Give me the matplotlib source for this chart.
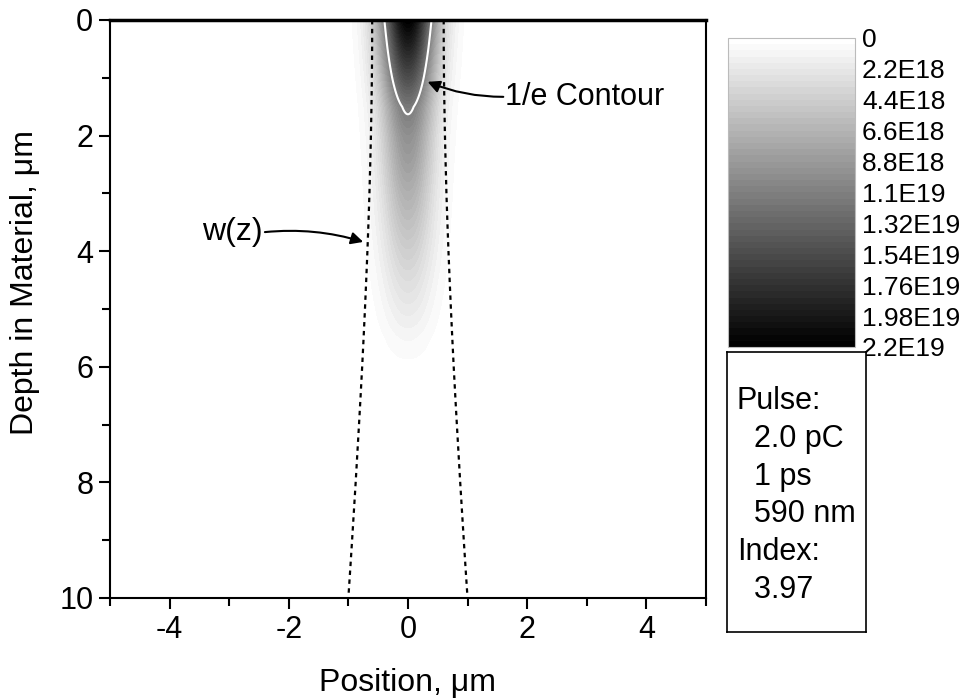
import matplotlib.pyplot as plt
import numpy as np
from matplotlib.colors import ListedColormap, BoundaryNorm
from matplotlib.ticker import MultipleLocator

plt.rcParams['font.family'] = ['Liberation Sans', 'DejaVu Sans']
plt.rcParams['axes.unicode_minus'] = False

# depth below the surface (um)
depth = [0.0, 0.5, 1.0, 1.5, 2.0, 2.5, 3.0, 3.5, 4.0, 4.5, 5.0,
         5.5, 6.0, 6.5, 7.0, 7.5, 8.0, 8.5, 9.0, 9.5, 10.0]
# beam radius w(z) (um)
beam_w = [0.600, 0.601, 0.605, 0.612, 0.621, 0.633, 0.646, 0.662, 0.680, 0.700, 0.721,
          0.744, 0.768, 0.794, 0.821, 0.849, 0.877, 0.907, 0.937, 0.968, 1.000]
# on-axis carrier density (cm^-3), read from the grey shades
n_axis = [2.20e19, 1.87e19, 1.52e19, 1.15e19, 9.6e18, 8.3e18, 6.9e18, 5.6e18,
          4.3e18, 3.1e18, 2.0e18, 9.5e17, 2.5e17, 8e16, 3e16, 1e16,
          5e15, 2e15, 1e15, 5e14, 2e14]
# lateral 1/e half-width of the carrier plume (um)
plume_w = [0.475, 0.47, 0.465, 0.46, 0.455, 0.45, 0.45, 0.45, 0.45, 0.445, 0.44,
           0.435, 0.43, 0.42, 0.41, 0.40, 0.40, 0.40, 0.40, 0.40, 0.40]
contour_level = 1.1e19

cbar_values = [0, 2.2e18, 4.4e18, 6.6e18, 8.8e18, 1.1e19, 1.32e19, 1.54e19, 1.76e19, 1.98e19, 2.2e19]
cbar_labels = ['0', '2.2E18', '4.4E18', '6.6E18', '8.8E18', '1.1E19',
               '1.32E19', '1.54E19', '1.76E19', '1.98E19', '2.2E19']
box_lines = ['Pulse:', '  2.0 pC', '  1 ps', '  590 nm', 'Index:', '  3.97']

n_peak = 2.2e19
n_levels = 50

x = np.linspace(-5, 5, 1001)
X, Z = np.meshgrid(x, np.array(depth))
A = np.array(plume_w)[:, None]
N = np.array(n_axis)[:, None] * np.exp(-(X / A) ** 2)

fig = plt.figure(figsize=(9.62, 6.98), dpi=100)
ax = fig.add_axes([0.1143, 0.1433, 0.6195, 0.8281])

levels = np.linspace(0, n_peak, n_levels + 1)
cmap = ListedColormap([str(g) for g in np.linspace(1, 0, n_levels)])
norm = BoundaryNorm(levels, n_levels)
cf = ax.contourf(X, Z, N, levels=levels, cmap=cmap, norm=norm)

ax.contour(X, Z, N, levels=[contour_level], colors='white', linewidths=1.5)

ax.plot(-np.array(beam_w), depth, color='black', lw=1.6, ls=(0, (2, 2)))
ax.plot(np.array(beam_w), depth, color='black', lw=1.6, ls=(0, (2, 2)))

arrow = dict(arrowstyle='-|>', color='black', lw=1.5, shrinkA=0, shrinkB=0,
             mutation_scale=18, connectionstyle='arc3,rad=-0.1')
ax.text(1.63, 1.33, '1/e Contour', fontsize=22, va='center', ha='left')
ax.annotate('', xy=(0.33, 1.07), xytext=(1.6, 1.33), arrowprops=arrow)
ax.text(-2.43, 3.67, 'w(z)', fontsize=23, va='center', ha='right')
ax.annotate('', xy=(-0.75, 3.84), xytext=(-2.4, 3.67), arrowprops=arrow)

ax.set_xlim(-5, 5)
ax.set_ylim(10, 0)
ax.xaxis.set_major_locator(MultipleLocator(2))
ax.xaxis.set_minor_locator(MultipleLocator(1))
ax.yaxis.set_major_locator(MultipleLocator(2))
ax.yaxis.set_minor_locator(MultipleLocator(1))
ax.tick_params(which='both', direction='out', width=1.5, labelsize=22, top=False, right=False)
ax.tick_params(which='major', length=8, pad=4)
ax.tick_params(which='minor', length=6)
for s in ax.spines.values():
    s.set_linewidth(1.5)
ax.spines['top'].set_linewidth(2.5)
ax.set_xlabel('Position, \u03bcm', fontsize=23, labelpad=17)
ax.set_ylabel('Depth in Material, \u03bcm', fontsize=23)
ax.yaxis.set_label_coords(-0.117, 0.545)

cax = fig.add_axes([0.7568, 0.5029, 0.1320, 0.4427])
cb = fig.colorbar(cf, cax=cax, ticks=cbar_values)
cb.ax.invert_yaxis()
cb.ax.minorticks_off()
cb.ax.set_yticklabels(cbar_labels)
cb.ax.tick_params(length=0, labelsize=19, pad=5)
cb.outline.set_linewidth(0.8)
cb.outline.set_edgecolor('#bbbbbb')

bax = fig.add_axes([0.7557, 0.0946, 0.1445, 0.4011])
bax.set_xticks([])
bax.set_yticks([])
for s in bax.spines.values():
    s.set_linewidth(1.2)
for i, line in enumerate(box_lines):
    bax.text(0.07, 0.825 - i * 0.135, line, fontsize=22, va='center', ha='left',
             transform=bax.transAxes)

fig.savefig('out.png', dpi=100)
